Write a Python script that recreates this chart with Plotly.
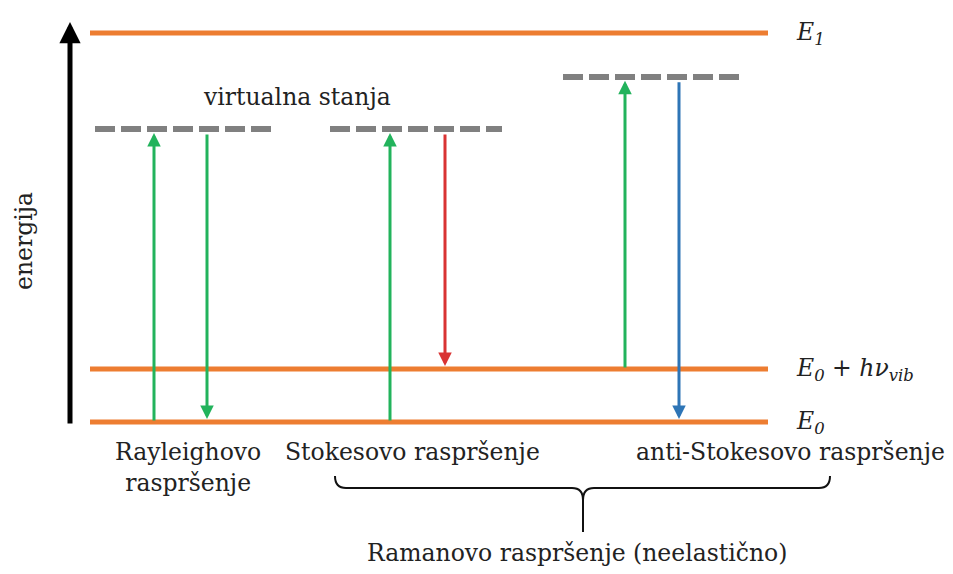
import plotly.graph_objects as go

# ---- data (energies in arbitrary units, E0 = 0, E1 = 10) ----
level_labels = ["E<sub>0</sub>", "E<sub>0</sub> + hν<sub>vib</sub>", "E<sub>1</sub>"]
level_energy = [0.0, 1.36, 10.0]

process_labels = ["Rayleighovo<br>raspršenje", "Stokesovo raspršenje", "anti-Stokesovo raspršenje"]
virtual_energy = [7.53, 7.53, 8.87]
start_energy = [0.0, 0.0, 1.36]     # excitation starts here
end_energy = [0.0, 1.36, 0.0]       # emission ends here
emission_colors = ["#22B35C", "#D93333", "#2E75B6"]

virtual_label = "virtualna stanja"
raman_label = "Ramanovo raspršenje (neelastično)"
axis_label = "energija"

# ---- layout geometry (pixels of the reference) ----
W, H = 953, 574
OFF = 8  # page body margin
PX_E0, PX_E1 = 422, 33
SCALE = (PX_E0 - PX_E1) / (level_energy[2] - level_energy[0])


def ey(p):
    """reference pixel row -> energy"""
    return (PX_E0 - p) / SCALE


FONT = "DejaVu Serif"
FS = 23.5
ORANGE = "#ED7D31"
GRAY = "#808080"
GREEN = "#22B35C"

level_x = (90, 768)
virtual_x = [(95, 272), (330, 502), (563, 740)]
up_x = [154, 390, 625]
down_x = [207, 445, 679]
tip_gap = 0.1

fig = go.Figure()
shapes = []
annotations = []

# energy levels
for e, lab in zip(level_energy, level_labels):
    shapes.append(dict(type="line", xref="x", yref="y", x0=level_x[0], x1=level_x[1],
                       y0=e, y1=e, line=dict(color=ORANGE, width=5)))
    annotations.append(dict(x=794, y=e, xref="x", yref="y", text="<i>" + lab + "</i>",
                            showarrow=False, xanchor="left", yanchor="middle",
                            font=dict(family=FONT, size=FS, color="#222")))

# virtual states
for (x0, x1), v in zip(virtual_x, virtual_energy):
    shapes.append(dict(type="line", xref="x", yref="y", x0=x0, x1=x1, y0=v, y1=v,
                       line=dict(color=GRAY, width=6, dash="20px,6px")))

# arrows
for i in range(3):
    v = virtual_energy[i]
    # excitation (green, up)
    annotations.append(dict(x=up_x[i], y=v - tip_gap, ax=up_x[i], ay=start_energy[i],
                            xref="x", yref="y", axref="x", ayref="y", text="",
                            showarrow=True, arrowhead=2, arrowsize=0.9, arrowwidth=3,
                            arrowcolor=GREEN, standoff=0, startstandoff=0))
    # emission
    annotations.append(dict(x=down_x[i], y=end_energy[i] + 0.08, ax=down_x[i], ay=v - tip_gap,
                            xref="x", yref="y", axref="x", ayref="y", text="",
                            showarrow=True, arrowhead=2, arrowsize=0.9, arrowwidth=3,
                            arrowcolor=emission_colors[i], standoff=0, startstandoff=0))

# energy axis arrow
annotations.append(dict(x=70, y=ey(22), ax=70, ay=ey(425), xref="x", yref="y",
                        axref="x", ayref="y", text="", showarrow=True, arrowhead=2,
                        arrowsize=0.85, arrowwidth=5, arrowcolor="black", standoff=0))
annotations.append(dict(x=24, y=ey(241), xref="x", yref="y", text=axis_label, textangle=-90,
                        showarrow=False, font=dict(family=FONT, size=FS, color="#222")))

# virtual label
annotations.append(dict(x=297, y=ey(97), xref="x", yref="y", text=virtual_label,
                        showarrow=False, font=dict(family=FONT, size=FS, color="#222")))

# process labels
label_pos = [(188, 436), (412, 452), (790, 452)]
for (px, pyy), lab in zip(label_pos, process_labels):
    annotations.append(dict(x=px, y=ey(pyy), xref="x", yref="y", text=lab, showarrow=False,
                            xanchor="center", yanchor="top" if "<br>" in lab else "middle",
                            font=dict(family=FONT, size=FS, color="#222")))

# brace
bp = [(335, 476), (335, 488), (346, 488), (572, 488), (583, 488), (583, 500), (583, 532)]
br = [(830, 476), (830, 488), (819, 488), (594, 488), (583, 488), (583, 500)]


def P(p):
    return f"{p[0]},{ey(p[1])}"


path = (f"M{P(bp[0])} Q{P(bp[1])} {P(bp[2])} L{P(bp[3])} Q{P(bp[4])} {P(bp[5])} L{P(bp[6])} "
        f"M{P(br[0])} Q{P(br[1])} {P(br[2])} L{P(br[3])} Q{P(br[4])} {P(br[5])}")
shapes.append(dict(type="path", xref="x", yref="y", path=path, line=dict(color="#111", width=2)))

annotations.append(dict(x=577, y=ey(553), xref="x", yref="y", text=raman_label, showarrow=False,
                        font=dict(family=FONT, size=FS, color="#222")))

fig.update_layout(
    width=W, height=H, margin=dict(l=0, r=0, t=0, b=0),
    paper_bgcolor="white", plot_bgcolor="white", showlegend=False,
    xaxis=dict(range=[OFF, W + OFF], visible=False, fixedrange=True),
    yaxis=dict(range=[ey(H + OFF), ey(OFF)], visible=False, fixedrange=True),
    shapes=shapes, annotations=annotations,
)
fig.write_html("out.html")
